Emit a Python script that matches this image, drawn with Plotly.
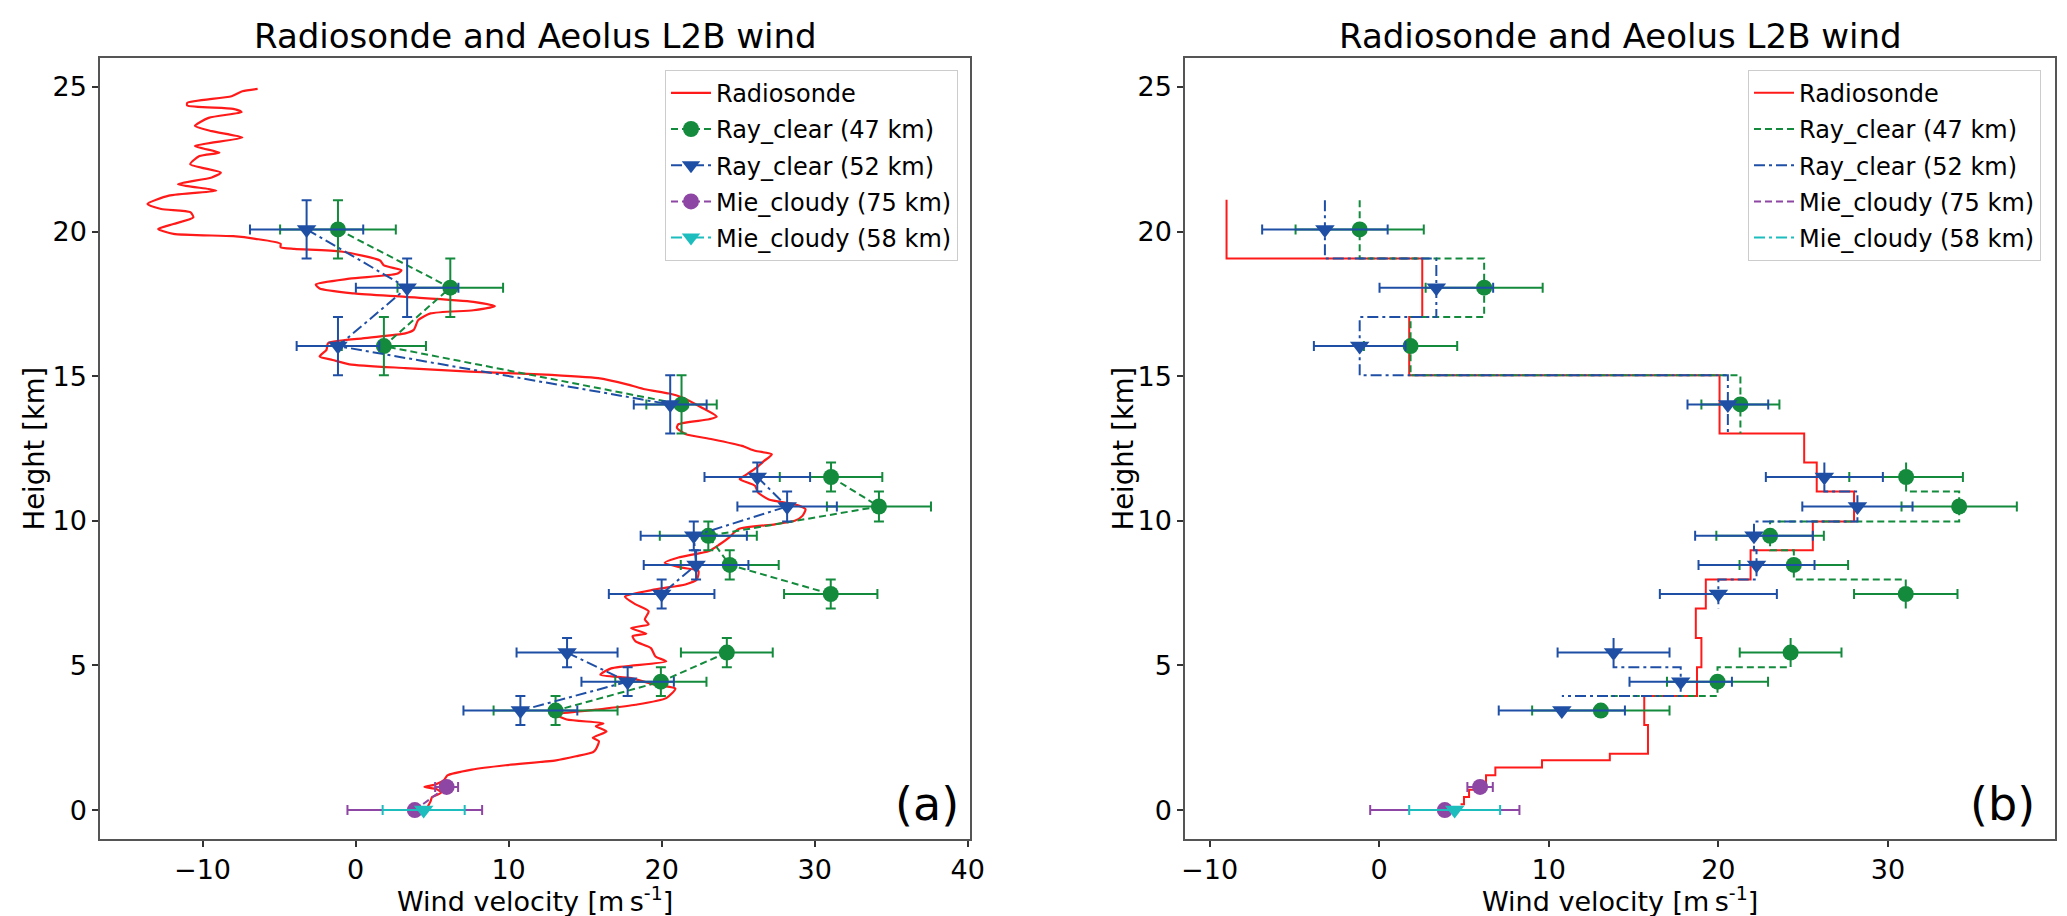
import plotly.graph_objects as go

# ---- radiosonde profile (panel a) ----
rs_height = [0.10, 0.30, 0.45, 0.60, 0.72, 0.80, 0.88, 1.05, 1.20, 1.40, 1.55, 1.72, 1.86, 2.00,
             2.10, 2.38, 2.50, 2.72, 2.90, 3.00, 3.13, 3.30, 3.47, 3.64, 3.87, 4.20, 4.33, 4.56,
             4.68, 4.90, 5.14, 5.31, 5.60, 5.83, 6.01, 6.10, 6.29, 6.42, 6.59, 6.87, 7.11, 7.38,
             7.63, 7.80, 7.97, 8.27, 8.38, 8.55, 8.73, 8.96, 9.19, 9.42, 9.71, 9.88, 10.00, 10.17,
             10.40, 10.57, 10.74, 10.98, 11.21, 11.44, 11.55, 11.84, 12.07, 12.30, 12.42, 12.59,
             12.82, 13.00, 13.22, 13.34, 13.51, 13.60, 13.92, 14.27, 14.40, 14.55, 14.71, 14.93,
             15.07, 15.16, 15.28, 15.41, 15.56, 15.68, 15.91, 16.14, 16.31, 16.48, 16.60, 16.94,
             17.17, 17.28, 17.42, 17.57, 17.74, 17.86, 18.03, 18.17, 18.37, 18.54, 18.66, 18.83,
             19.00, 19.31, 19.40, 19.46, 19.58, 19.75, 19.84, 19.92, 20.09, 20.26, 20.49, 20.67,
             20.78, 20.95, 21.24, 21.41, 21.47, 21.64, 21.87, 22.04, 22.33, 22.61, 22.73, 22.96,
             23.25, 23.47, 23.65, 23.93, 24.13, 24.24, 24.36, 24.45, 24.68, 24.85, 24.93]
rs_wind = [4.7, 4.9, 5.0, 5.6, 5.3, 4.5, 5.2, 5.8, 6.0, 7.6, 9.8, 13.1, 14.4, 15.5,
           15.7, 15.9, 15.5, 16.4, 15.7, 16.2, 13.8, 13.1, 15.7, 18.3, 20.3, 20.9, 19.6, 18.0,
           16.0, 16.7, 20.3, 19.6, 19.3, 18.3, 18.1, 19.0, 18.0, 19.15, 18.9, 19.15, 18.3, 17.6,
           19.6, 21.55, 22.3, 22.4, 21.3, 20.2, 21.1, 23.1, 23.8, 24.4, 25.0, 27.4, 28.7, 29.2,
           29.4, 28.7, 27.0, 26.3, 26.1, 25.1, 25.4, 26.2, 26.7, 27.2, 26.1, 25.25,
           23.3, 21.55, 21.0, 21.1, 23.1, 23.6, 22.6, 21.3, 20.5, 18.9, 17.8, 15.85,
           11.65, 7.45, 3.25, -0.4, -1.5, -2.35, -1.9, -1.8, 0.45, 3.25, 3.8, 4.1,
           4.9, 7.7, 9.1, 7.7, 3.25, -0.1, -2.35, -2.6, -0.4, 2.7, 3.0, 1.85,
           1.6, -0.95, -4.0, -4.9, -4.9, -6.55, -8.0, -11.9, -12.9, -11.9, -10.6, -10.8,
           -12.7, -13.6, -12.2, -9.1, -9.6, -11.6, -9.4, -8.8, -10.8, -10.2, -8.9, -10.5,
           -7.4, -9.4, -10.5, -9.6, -7.45, -8.0, -11.0, -11.0, -8.1, -7.4, -6.4]

# ---- radiosonde averaged into bins (panel b), top edge of each bin ----
rs_bin_top = [21.1, 19.07, 17.05, 15.03, 13.02, 12.02, 11.01, 9.98, 8.98, 7.97, 6.97, 5.95,
              4.94, 3.94, 2.94, 1.95, 1.72, 1.47, 1.20, 0.95, 0.70, 0.45, 0.20]
rs_bin_wind = [-9.0, 2.54, 1.77, 20.07, 25.06, 25.8, 28.0, 25.57, 21.9, 19.26, 18.67, 19.0,
               18.74, 15.63, 15.85, 13.6, 9.6, 6.85, 6.3, 5.7, 5.3, 5.0, 4.8]

# ---- Aeolus Rayleigh clear bins (edges top -> bottom) ----
ray_edges = [21.08, 19.07, 17.05, 15.03, 13.02, 12.02, 11.01, 9.98, 8.98, 7.97, 6.97, 5.95,
             4.94, 3.94, 2.94]
ray47_wind = [-1.15, 6.19, 1.85, 21.3, None, 31.07, 34.2, 23.05, 24.45, 31.05, None, 24.26,
              19.95, 13.07]
ray47_err = [3.78, 3.45, 2.75, 2.3, None, 3.35, 3.4, 3.17, 3.2, 3.05, None, 3.0, 2.98, 4.05]
ray52_wind = [-3.2, 3.37, -1.15, 20.56, None, 26.25, 28.2, 22.1, 22.25, 20.0, None, 13.82,
              17.78, 10.77]
ray52_err = [3.7, 3.35, 2.7, 2.38, None, 3.45, 3.25, 3.47, 3.42, 3.45, None, 3.3, 3.02, 3.72]

# ---- Aeolus Mie cloudy ----
mie75_height = [0.8, 0.0]
mie75_wind = [5.95, 3.87]
mie75_err = [0.75, 4.4]
mie58_height = [0.0]
mie58_wind = [4.45]
mie58_err = [2.68]

RED = "#ff1a1a"
GREEN = "#138a3c"
BLUE = "#1f4fa5"
PURPLE = "#8d46a3"
CYAN = "#1dbdbd"
FONT = "DejaVu Sans"
DASH = "7px,4px"
DASHDOT = "11px,4px,3px,4px"
SYM_SIZE = {"circle": 16, "triangle-down": 17}

ray_h = [(ray_edges[i] + ray_edges[i + 1]) / 2 for i in range(len(ray_edges) - 1)]
ray_herr = [(ray_edges[i] - ray_edges[i + 1]) / 2 for i in range(len(ray_edges) - 1)]


def steps_pre(vals, tops):
    # same vertex order as matplotlib drawstyle 'steps-pre' with x=vals, y=tops
    xs, ys = [], []
    for i, v in enumerate(vals):
        xs.append(v)
        ys.append(tops[i])
        if i + 1 < len(vals):
            xs.append(v)
            ys.append(tops[i + 1])
    return xs, ys


fig = go.Figure()

# panel (a)
fig.add_trace(go.Scatter(x=rs_wind, y=rs_height, mode="lines", name="Radiosonde",
                         line=dict(color=RED, width=2.2, shape="spline", smoothing=0.6),
                         legendgroup="a1"))
for name, wind, err, col, sym, dash, g in [
        ("Ray_clear (47 km)", ray47_wind, ray47_err, GREEN, "circle", DASH, "a2"),
        ("Ray_clear (52 km)", ray52_wind, ray52_err, BLUE, "triangle-down", DASHDOT, "a3")]:
    fig.add_trace(go.Scatter(
        x=wind, y=ray_h, mode="lines+markers", name=name, legendgroup=g,
        line=dict(color=col, width=2, dash=dash),
        marker=dict(color=col, size=SYM_SIZE[sym], symbol=sym),
        error_x=dict(type="data", array=err, color=col, thickness=2, width=5),
        error_y=dict(type="data", array=ray_herr, color=col, thickness=2, width=5)))
for name, wind, h, err, col, sym, dash, g in [
        ("Mie_cloudy (75 km)", mie75_wind, mie75_height, mie75_err, PURPLE, "circle", DASH, "a4"),
        ("Mie_cloudy (58 km)", mie58_wind, mie58_height, mie58_err, CYAN, "triangle-down", DASHDOT, "a5")]:
    fig.add_trace(go.Scatter(
        x=wind, y=h, mode="lines+markers", name=name, legendgroup=g,
        line=dict(color=col, width=2, dash=dash),
        marker=dict(color=col, size=SYM_SIZE[sym], symbol=sym),
        error_x=dict(type="data", array=err, color=col, thickness=2, width=5)))

# panel (b): steps
sx, sy = steps_pre(rs_bin_wind, rs_bin_top)
fig.add_trace(go.Scatter(x=sx, y=sy, mode="lines", name="Radiosonde", xaxis="x2", yaxis="y2",
                         line=dict(color=RED, width=2), legend="legend2", legendgroup="b1"))
for name, wind, col, dash, g in [("Ray_clear (47 km)", ray47_wind, GREEN, DASH, "b2"),
                                 ("Ray_clear (52 km)", ray52_wind, BLUE, DASHDOT, "b3")]:
    sx, sy = steps_pre(wind, ray_edges[:len(wind)])
    fig.add_trace(go.Scatter(x=sx, y=sy, mode="lines", name=name, xaxis="x2", yaxis="y2",
                             line=dict(color=col, width=2, dash=dash),
                             legend="legend2", legendgroup=g))
for name, col, dash, g in [("Mie_cloudy (75 km)", PURPLE, DASH, "b4"),
                           ("Mie_cloudy (58 km)", CYAN, DASHDOT, "b5")]:
    fig.add_trace(go.Scatter(x=[None], y=[None], mode="lines", name=name, xaxis="x2", yaxis="y2",
                             line=dict(color=col, width=2, dash=dash),
                             legend="legend2", legendgroup=g))
# panel (b): points
for wind, h, err, col, sym in [(ray47_wind, ray_h, ray47_err, GREEN, "circle"),
                               (ray52_wind, ray_h, ray52_err, BLUE, "triangle-down"),
                               (mie75_wind, mie75_height, mie75_err, PURPLE, "circle"),
                               (mie58_wind, mie58_height, mie58_err, CYAN, "triangle-down")]:
    fig.add_trace(go.Scatter(
        x=wind, y=h, mode="markers", showlegend=False, xaxis="x2", yaxis="y2",
        marker=dict(color=col, size=SYM_SIZE[sym], symbol=sym),
        error_x=dict(type="data", array=err, color=col, thickness=2, width=5)))

W, H = 2067, 916
axis_style = dict(showline=True, mirror=True, linecolor="#555555", linewidth=1.5,
                  ticks="outside", ticklen=6, tickwidth=1.5, tickcolor="#333333",
                  showgrid=False, zeroline=False, automargin=False,
                  tickfont=dict(family=FONT, size=27, color="black"))
legend_style = dict(font=dict(family=FONT, size=24, color="black"), bgcolor="white",
                    bordercolor="#cccccc", borderwidth=1, xanchor="right", yanchor="top",
                    tracegroupgap=2, itemwidth=40)

fig.update_layout(
    width=W, height=H, plot_bgcolor="white", paper_bgcolor="white",
    margin=dict(l=0, r=0, t=50, b=85),
    xaxis=dict(domain=[92 / W, 962 / W], range=[-16.7, 40.15], tickvals=[-10, 0, 10, 20, 30, 40],
               anchor="y", **axis_style),
    yaxis=dict(domain=[0, 1], range=[-1.0, 26.0], tickvals=[0, 5, 10, 15, 20, 25],
               anchor="x", **axis_style),
    xaxis2=dict(domain=[1177 / W, 2047 / W], range=[-11.45, 39.85], tickvals=[-10, 0, 10, 20, 30],
                anchor="y2", **axis_style),
    yaxis2=dict(domain=[0, 1], range=[-1.0, 26.0], tickvals=[0, 5, 10, 15, 20, 25],
                anchor="x2", **axis_style),
    legend=dict(x=950 / W, y=0.985, **legend_style),
    legend2=dict(x=2033 / W, y=0.985, **legend_style),
)

for xr in ["x domain", "x2 domain"]:
    fig.add_annotation(text="Radiosonde and Aeolus L2B wind", xref=xr, yref="paper", x=0.5,
                       y=1.0, xanchor="center", yanchor="bottom", showarrow=False,
                       font=dict(family=FONT, size=34, color="black"))
    fig.add_annotation(text="Wind velocity [m\u2009s<sup>-1</sup>]", xref=xr, yref="paper",
                       x=0.5, y=-0.078, xanchor="center", yanchor="middle", showarrow=False,
                       font=dict(family=FONT, size=27, color="black"))

for xpix in [25, 1114]:
    fig.add_annotation(text="Height [km]", xref="paper", yref="paper", x=xpix / W, y=0.5,
                       xanchor="center", yanchor="middle", textangle=-90, showarrow=False,
                       font=dict(family=FONT, size=27.5, color="black"))
fig.add_annotation(text="(a)", xref="x domain", yref="y domain", x=0.9506, y=0.0448,
                   xanchor="center", yanchor="middle", showarrow=False,
                   font=dict(family=FONT, size=46, color="black"))
fig.add_annotation(text="(b)", xref="x2 domain", yref="y2 domain", x=0.94, y=0.0448,
                   xanchor="center", yanchor="middle", showarrow=False,
                   font=dict(family=FONT, size=46, color="black"))

fig.write_html("out.html")
